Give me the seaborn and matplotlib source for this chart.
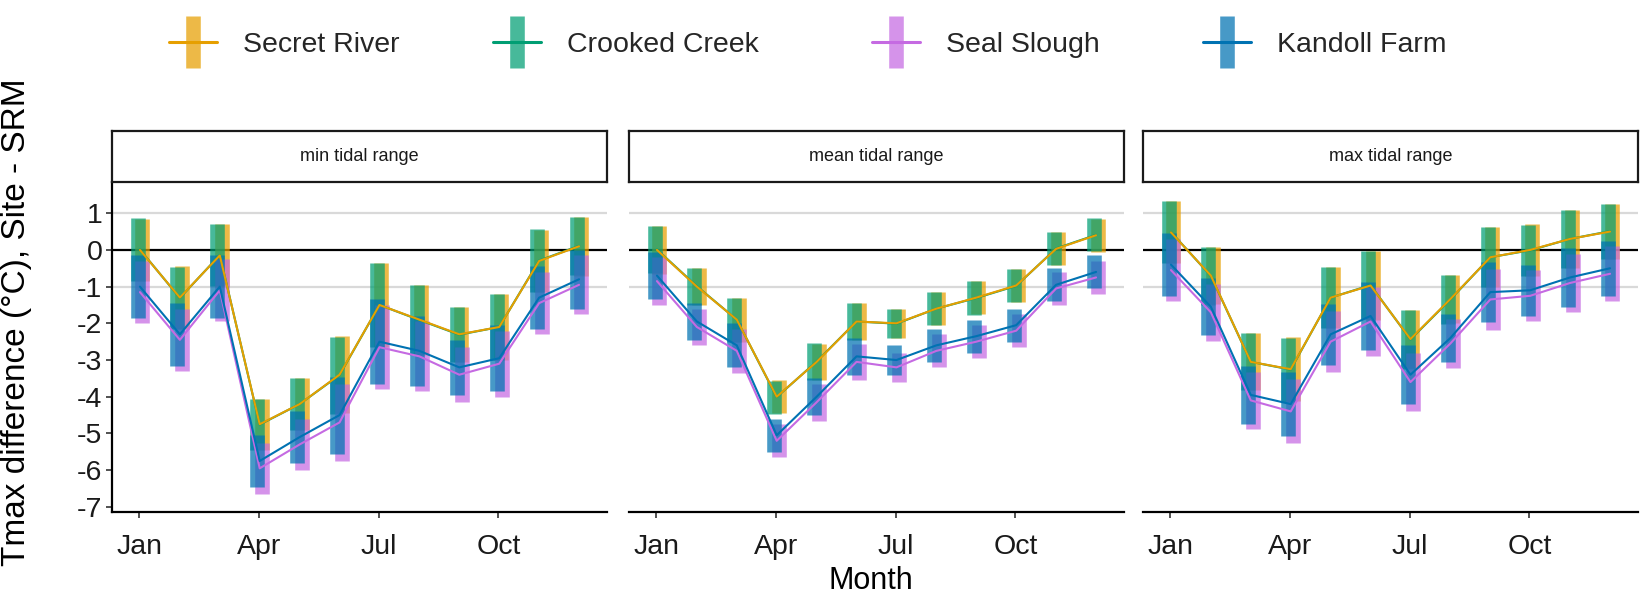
import numpy as np
import pandas as pd
import matplotlib
matplotlib.use("Agg")
import matplotlib.pyplot as plt
from matplotlib.lines import Line2D
from matplotlib.legend_handler import HandlerTuple
import seaborn as sns

# ---- data -------------------------------------------------------------
months = list(range(1, 13))
month_ticks = [1, 4, 7, 10]
month_labels = ["Jan", "Apr", "Jul", "Oct"]

sites = ["Secret River", "Crooked Creek", "Seal Slough", "Kandoll Farm"]
panels = ["min tidal range", "mean tidal range", "max tidal range"]

# monthly mean Tmax difference (site - SRM), min tidal range
secret_min = [0.0, -1.3, -0.15, -4.75, -4.2, -3.4, -1.5, -1.9, -2.3, -2.1, -0.3, 0.1]
crooked_min = [0.01, -1.31, -0.14, -4.76, -4.2, -3.41, -1.5, -1.91, -2.31, -2.1, -0.29, 0.11]
seal_min = [-1.15, -2.45, -1.1, -5.95, -5.3, -4.7, -2.65, -2.9, -3.4, -3.1, -1.45, -0.95]
kandoll_min = [-1.0, -2.3, -1.0, -5.75, -5.1, -4.5, -2.5, -2.75, -3.2, -2.95, -1.3, -0.8]
spread_min = [0.85, 0.85, 0.85, 0.7, 0.7, 1.05, 1.15, 0.95, 0.75, 0.9, 0.85, 0.8]

# mean tidal range
secret_mean = [0.0, -1.0, -1.9, -4.0, -3.05, -1.95, -2.0, -1.6, -1.3, -0.97, 0.03, 0.4]
crooked_mean = [0.01, -0.99, -1.9, -4.01, -3.04, -1.95, -2.01, -1.6, -1.31, -0.98, 0.04, 0.41]
seal_mean = [-0.85, -2.1, -2.75, -5.2, -4.15, -3.05, -3.2, -2.75, -2.5, -2.2, -1.05, -0.75]
kandoll_mean = [-0.7, -1.95, -2.6, -5.05, -4.0, -2.9, -3.0, -2.6, -2.35, -2.05, -0.95, -0.6]
spread_mean = [0.65, 0.5, 0.6, 0.45, 0.5, 0.5, 0.4, 0.45, 0.45, 0.45, 0.45, 0.45]

# max tidal range
secret_max = [0.48, -0.7, -3.05, -3.25, -1.3, -0.97, -2.43, -1.34, -0.2, 0.0, 0.3, 0.5]
crooked_max = [0.49, -0.71, -3.05, -3.26, -1.3, -0.96, -2.44, -1.35, -0.2, -0.01, 0.3, 0.51]
seal_max = [-0.55, -1.7, -4.1, -4.4, -2.5, -1.95, -3.6, -2.55, -1.35, -1.25, -0.9, -0.65]
kandoll_max = [-0.4, -1.55, -3.95, -4.2, -2.3, -1.8, -3.4, -2.4, -1.15, -1.1, -0.75, -0.5]
spread_max = [0.85, 0.78, 0.78, 0.87, 0.83, 0.93, 0.8, 0.66, 0.82, 0.7, 0.8, 0.75]

# ---- long table -------------------------------------------------------
series = {
    "min tidal range": ([secret_min, crooked_min, seal_min, kandoll_min], spread_min),
    "mean tidal range": ([secret_mean, crooked_mean, seal_mean, kandoll_mean], spread_mean),
    "max tidal range": ([secret_max, crooked_max, seal_max, kandoll_max], spread_max),
}
rows = []
for panel, (vals, spread) in series.items():
    for site, v in zip(sites, vals):
        for m, val, s in zip(months, v, spread):
            rows.append(dict(panel=panel, site=site, month=m, diff=val, spread=s))
df = pd.DataFrame(rows)

# ---- styling ----------------------------------------------------------
palette = {
    "Secret River": "#E69F00",
    "Crooked Creek": "#009E73",
    "Seal Slough": "#C56AE2",
    "Kandoll Farm": "#0072B2",
}
# small horizontal shift per site so the ranges do not hide each other
shift = {"Secret River": 0.07, "Crooked Creek": -0.04, "Seal Slough": 0.08, "Kandoll Farm": -0.04}
df["xbar"] = df["month"] + df["site"].map(shift)
df["xline"] = df["month"] + 0.02

sns.set_theme(style="white")
plt.rcParams["font.family"] = ["Liberation Sans", "DejaVu Sans"]

W, H = 1651, 604
fig = plt.figure(figsize=(W / 100, H / 100), dpi=100)

def fx(px):
    return px / W

def fy(py):
    return 1 - py / H

lefts = [112, 629, 1143]
pw = 495
top, bottom, strip_top = 182, 512, 131
bar_lw = 10.5
line_order = ["Crooked Creek", "Secret River", "Seal Slough", "Kandoll Farm"]

for i, (panel, left) in enumerate(zip(panels, lefts)):
    ax = fig.add_axes([fx(left), fy(bottom), pw / W, (bottom - top) / H])
    sub = df[df["panel"] == panel]

    ax.axhline(1, color="#D9D9D9", lw=1.6, zorder=0)
    ax.axhline(-1, color="#D9D9D9", lw=1.6, zorder=0)
    ax.axhline(0, color="black", lw=1.6, zorder=1)

    for site in sites:
        d = sub[sub["site"] == site]
        ax.vlines(d["xbar"], d["diff"] - d["spread"], d["diff"] + d["spread"],
                  colors=palette[site], alpha=0.72, lw=bar_lw,
                  capstyle="butt", zorder=2)

    sns.lineplot(data=sub, x="xline", y="diff", hue="site", hue_order=line_order,
                 palette=palette, lw=1.5, legend=False, ax=ax, zorder=3,
                 sort=True, estimator=None)

    ax.set_xlim(0.32, 12.72)
    ax.set_ylim(-7.14, 1.85)
    ax.set_xticks(month_ticks)
    ax.set_xticklabels(month_labels, fontsize=20.5, color="#1A1A1A")
    ax.set_xlabel("")
    ax.set_ylabel("")
    for s in ["top", "right"]:
        ax.spines[s].set_visible(False)
    ax.spines["bottom"].set_color("black")
    ax.spines["bottom"].set_linewidth(1.6)
    ax.tick_params(axis="x", direction="out", length=4, width=1.2,
                   color="#333333", pad=12, bottom=True)
    if i == 0:
        ax.spines["left"].set_color("black")
        ax.spines["left"].set_linewidth(1.6)
        ax.set_yticks(list(range(-7, 2)))
        ax.set_yticklabels([str(v) for v in range(-7, 2)],
                           fontsize=20.5, color="#1A1A1A")
        ax.tick_params(axis="y", direction="out", length=4, width=1.2,
                       color="#333333", pad=3, left=True)
    else:
        ax.spines["left"].set_visible(False)
        ax.set_yticks([])
    ax.grid(False)

    # facet strip
    sax = fig.add_axes([fx(left), fy(top), pw / W, (top - strip_top) / H])
    sax.set_xticks([])
    sax.set_yticks([])
    sax.set_facecolor("white")
    for s in sax.spines.values():
        s.set_visible(True)
        s.set_color("#1A1A1A")
        s.set_linewidth(1.6)
    sax.text(0.5, 0.5, panel, ha="center", va="center", fontsize=13,
             color="#1A1A1A", transform=sax.transAxes)

fig.text(fx(871), fy(581), "Month", ha="center", va="center", fontsize=22,
         color="black")
fig.text(fx(17), fy(322), "Tmax difference (\u00b0C), Site - SRM", rotation=90,
         ha="center", va="center", fontsize=24, color="black")

# legend: one entry per site, each key anchored at its own position
key_left_px = [169, 493, 872, 1203]
for site, kx in zip(sites, key_left_px):
    bar = Line2D([], [], marker="|", markersize=37, markeredgewidth=bar_lw,
                 color=palette[site], alpha=0.72, linestyle="none")
    ln = Line2D([], [], color=palette[site], lw=2.2)
    leg = fig.legend([(bar, ln)], [site],
                     handler_map={tuple: HandlerTuple(ndivide=1)},
                     loc="center left", bbox_to_anchor=(fx(kx), fy(45)),
                     frameon=False, fontsize=20.5, handlelength=1.7,
                     handletextpad=0.9, borderpad=0, borderaxespad=0)

fig.savefig("out.png", dpi=100)
